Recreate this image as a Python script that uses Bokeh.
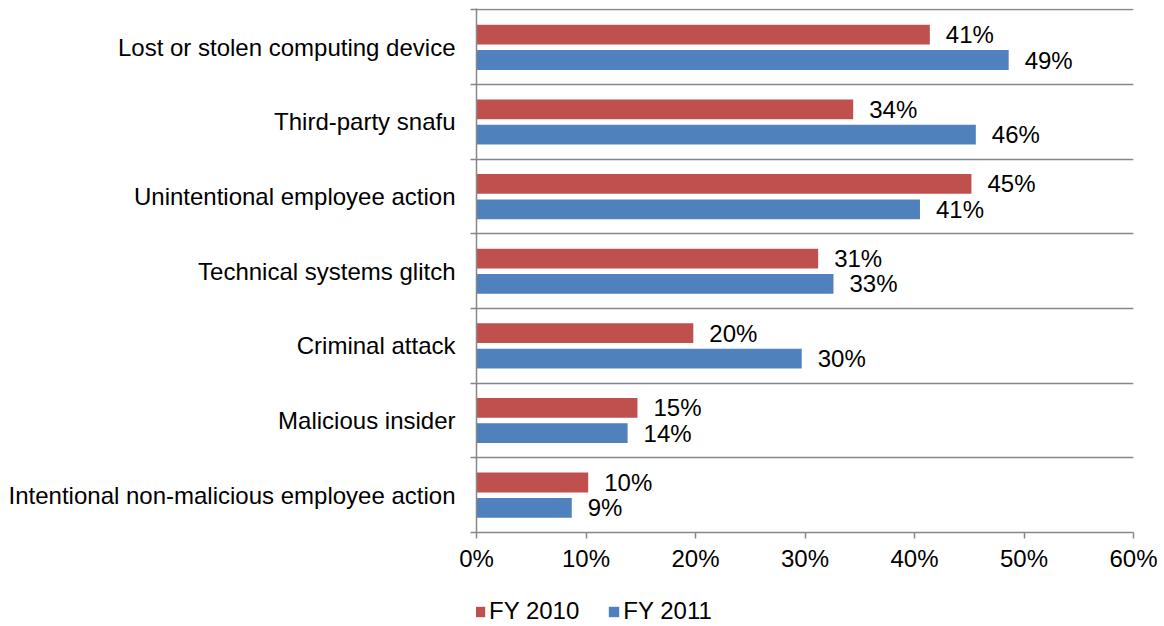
from bokeh.plotting import figure
from bokeh.layouts import column
from bokeh.models import (ColumnDataSource, FixedTicker, NumeralTickFormatter,
                          Legend, LegendItem, Range1d)
from bokeh.core.properties import value
from bokeh.embed import file_html
from bokeh.resources import INLINE

categories = [
    "Lost or stolen computing device",
    "Third-party snafu",
    "Unintentional employee action",
    "Technical systems glitch",
    "Criminal attack",
    "Malicious insider",
    "Intentional non-malicious employee action",
]
fy2010 = [41.4, 34.4, 45.2, 31.2, 19.8, 14.7, 10.2]
fy2011 = [48.6, 45.6, 40.5, 32.6, 29.7, 13.8, 8.7]
labels2010 = ["41%", "34%", "45%", "31%", "20%", "15%", "10%"]
labels2011 = ["49%", "46%", "41%", "33%", "30%", "14%", "9%"]
series_names = ["FY 2010", "FY 2011"]
colors = ["#C0504D", "#4F81BD"]
x_ticks = [0, 0.1, 0.2, 0.3, 0.4, 0.5, 0.6]

n = len(categories)
centers = [n - 1 - i + 0.5 for i in range(n)]
off = 0.17
bar_h = 0.265

src10 = ColumnDataSource(dict(y=[c + off for c in centers], x=[v / 100 for v in fy2010], lab=labels2010))
src11 = ColumnDataSource(dict(y=[c - off for c in centers], x=[v / 100 for v in fy2011], lab=labels2011))

FONT = "Liberation Sans"
FS = "24px"
GRAY = "#878787"

W, H = 1160, 578
p = figure(width=W, height=H, output_backend="svg", toolbar_location=None,
           x_range=Range1d(0, 0.6), y_range=Range1d(0, n + 0.02),
           min_border_left=476, min_border_right=W - 1133, min_border_top=8,
           min_border_bottom=H - 532)
p.outline_line_color = None
p.background_fill_color = "white"
p.border_fill_color = "white"

p.hbar(y="y", right="x", left=0, height=bar_h, source=src10, fill_color=colors[0], line_color=None)
p.hbar(y="y", right="x", left=0, height=bar_h, source=src11, fill_color=colors[1], line_color=None)

for s in (src10, src11):
    p.text(x="x", y="y", text="lab", source=s, x_offset=16, text_align="left", text_baseline="middle",
           text_font=value(FONT), text_font_size=FS, text_color="#000000")

# x axis
p.xaxis.ticker = FixedTicker(ticks=x_ticks)
p.xaxis.formatter = NumeralTickFormatter(format="0%")
p.xaxis.major_label_text_font = FONT
p.xaxis.major_label_text_font_size = FS
p.xaxis.major_label_text_color = "#000000"
p.xaxis.axis_line_color = GRAY
p.xaxis.axis_line_width = 1.5
p.xaxis.major_tick_line_color = GRAY
p.xaxis.major_tick_line_width = 1.5
p.xaxis.major_tick_in = 0
p.xaxis.major_tick_out = 6
p.xaxis.minor_tick_line_color = None
p.xaxis.major_label_standoff = 6

# y axis
p.yaxis.ticker = FixedTicker(ticks=centers, minor_ticks=list(range(n + 1)))
p.yaxis.major_label_overrides = {c: categories[i] for i, c in enumerate(centers)}
p.yaxis.major_label_text_font = FONT
p.yaxis.major_label_text_font_size = FS
p.yaxis.major_label_text_color = "#000000"
p.yaxis.major_tick_line_color = None
p.yaxis.major_tick_out = 0
p.yaxis.major_tick_in = 0
p.yaxis.minor_tick_line_color = GRAY
p.yaxis.minor_tick_line_width = 1.5
p.yaxis.minor_tick_out = 6
p.yaxis.minor_tick_in = 0
p.yaxis.axis_line_color = GRAY
p.yaxis.axis_line_width = 1.5
p.yaxis.major_label_standoff = 15

p.xgrid.grid_line_color = None
p.ygrid.ticker = FixedTicker(ticks=list(range(1, n + 1)))
p.ygrid.grid_line_color = GRAY
p.ygrid.grid_line_width = 1.5

# legend strip below the chart (its frame is aligned with the chart's frame)
LH = 47
lg = figure(width=W, height=LH, output_backend="svg", toolbar_location=None,
            x_range=Range1d(0, 1), y_range=Range1d(0, 1),
            min_border_left=0, min_border_right=0, min_border_top=0, min_border_bottom=0)
lg.axis.visible = False
lg.grid.visible = False
lg.outline_line_color = None
# renderers only used for legend swatches; their data lies outside the visible range
rl10 = lg.hbar(y=[-5], right=[0.1], left=0, height=0.5, fill_color=colors[0], line_color=None)
rl11 = lg.hbar(y=[-5], right=[0.1], left=0, height=0.5, fill_color=colors[1], line_color=None)
legend = Legend(items=[LegendItem(label=series_names[0], renderers=[rl10]),
                       LegendItem(label=series_names[1], renderers=[rl11])],
                orientation="horizontal", location=(-3, 0),
                glyph_width=13, glyph_height=13, label_standoff=3, spacing=28,
                padding=0, margin=0, border_line_color=None, background_fill_alpha=0,
                label_text_font=FONT, label_text_font_size=FS, label_text_color="#000000")
lg.add_layout(legend, "center")

layout = column(p, lg, spacing=0)
open("out.html", "w").write(file_html(layout, INLINE))
